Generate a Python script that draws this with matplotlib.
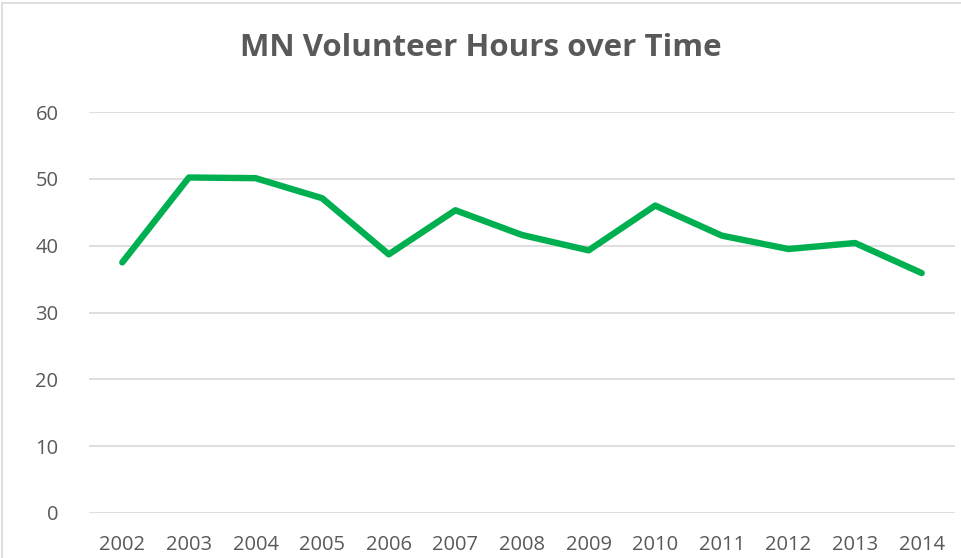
import matplotlib
matplotlib.use("Agg")
import matplotlib.pyplot as plt
from matplotlib.patches import Rectangle

years = ["2002", "2003", "2004", "2005", "2006", "2007", "2008",
         "2009", "2010", "2011", "2012", "2013", "2014"]
hours = [37.5, 50.2, 50.1, 47.1, 38.7, 45.3, 41.6, 39.3, 46.0, 41.5, 39.5, 40.4, 35.9]
yticks = [0, 10, 20, 30, 40, 50, 60]

W, H = 961, 558
fig = plt.figure(figsize=(W / 100, H / 100), dpi=100)
fig.patch.set_facecolor("white")

ax = fig.add_axes([89 / W, (H - 513) / H, (955 - 89) / W, (513 - 112) / H])
x = list(range(len(years)))
ax.plot(x, hours, color="#00B050", linewidth=4.6, solid_joinstyle="round",
        solid_capstyle="round", zorder=3)
ax.set_xlim(-0.5, len(years) - 0.5)
ax.set_ylim(0, 60)
ax.set_yticks(yticks)
ax.set_yticklabels([str(v) for v in yticks])
ax.set_xticks(x)
ax.set_xticklabels(years)
ax.grid(axis="y", color="#D9D9D9", linewidth=1.2)
ax.set_axisbelow(True)
for s in ax.spines.values():
    s.set_visible(False)
ax.tick_params(axis="both", length=0, colors="#595959", labelsize=14.5)
ax.tick_params(axis="y", pad=22)
ax.tick_params(axis="x", pad=16)
for lab in ax.get_xticklabels() + ax.get_yticklabels():
    lab.set_fontfamily("Open Sans")

fig.text(0.5, (H - 48) / H, "MN Volunteer Hours over Time", ha="center", va="center",
         fontsize=22.5, fontweight="bold", color="#595959", family="Open Sans")

fig.patches.append(Rectangle((2 / W, -0.01), 1.0, (H - 2) / H + 0.01 - 1 / H,
                             transform=fig.transFigure, fill=False,
                             edgecolor="#D9D9D9", linewidth=1.2))

fig.savefig("out.png", dpi=100)
